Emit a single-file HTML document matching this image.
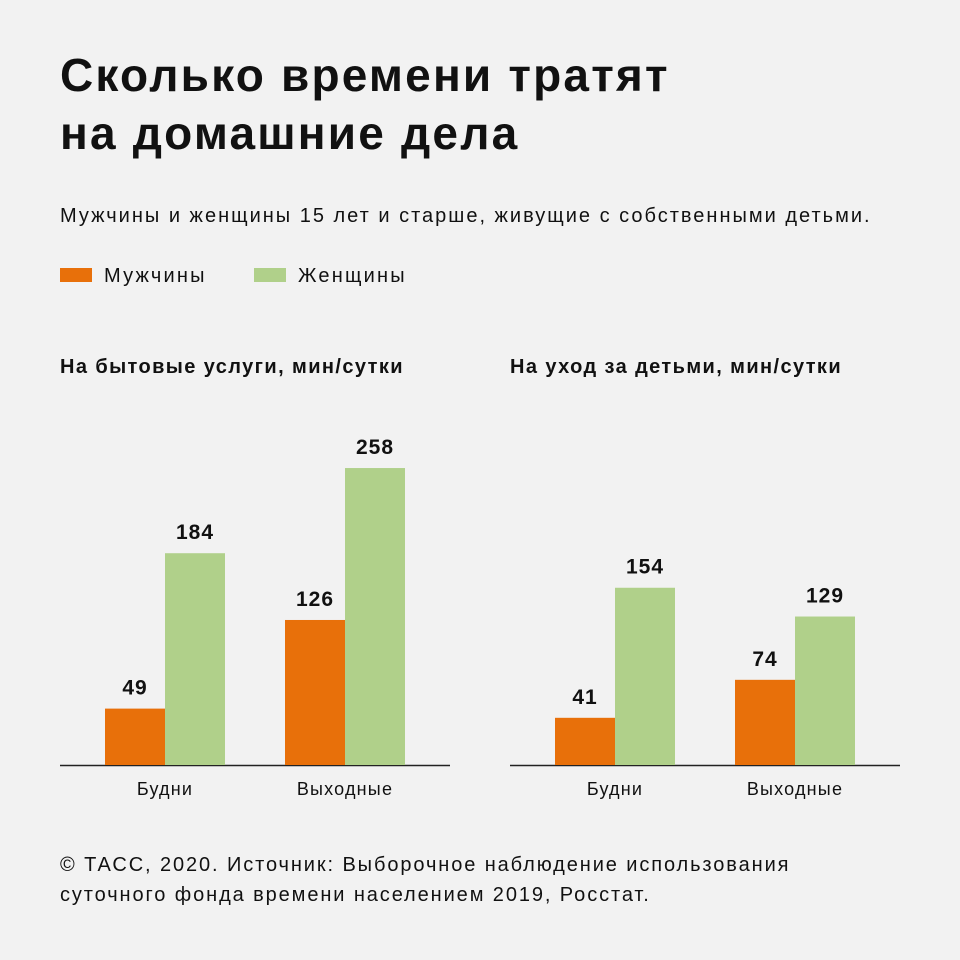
<!DOCTYPE html>
<html><head><meta charset="utf-8"><style>
body{margin:0;width:960px;height:960px;background:#f2f2f2;font-family:"Liberation Sans","DejaVu Sans",sans-serif;color:#111;position:relative;overflow:hidden}
.t{position:absolute;white-space:nowrap}
</style></head><body>
<div class="t" style="left:60px;top:46px;font-size:46px;font-weight:bold;line-height:58px;letter-spacing:2.2px">Сколько времени тратят<br>на домашние дела</div>
<div class="t" style="left:60px;top:205px;font-size:20px;letter-spacing:2px">Мужчины и женщины 15 лет и старше, живущие с собственными детьми.</div>
<div class="t" style="left:60px;top:265px;font-size:20px;letter-spacing:2.2px"><span style="display:inline-block;width:32px;height:14px;background:#e8700a;margin-right:12px"></span>Мужчины</div>
<div class="t" style="left:254px;top:265px;font-size:20px;letter-spacing:2.2px"><span style="display:inline-block;width:32px;height:14px;background:#b0d08a;margin-right:12px"></span>Женщины</div>
<div class="t" style="left:60px;top:356px;font-size:20px;font-weight:bold;letter-spacing:1.4px">На бытовые услуги, мин/сутки</div>
<div class="t" style="left:510px;top:356px;font-size:20px;font-weight:bold;letter-spacing:1.4px">На уход за детьми, мин/сутки</div>
<svg id="c" width="960" height="960" style="position:absolute;left:0;top:0"></svg>
<div class="t" style="left:60px;top:850px;font-size:20px;line-height:30px;letter-spacing:1.9px">© ТАСС, 2020. Источник: Выборочное наблюдение использования<br>суточного фонда времени населением 2019, Росстат.</div>
<script>
const categories=["Будни","Выходные"];
const householdMen=[49,126];
const householdWomen=[184,258];
const childcareMen=[41,74];
const childcareWomen=[154,129];
const svg=document.getElementById('c');
const NS='http://www.w3.org/2000/svg';
const base=765,scale=1.151;
const y=v=>base-v*scale;
function el(tag,attrs){const e=document.createElementNS(NS,tag);for(const k in attrs)e.setAttribute(k,attrs[k]);svg.appendChild(e);return e;}
function chart(x0,men,women,name){
  const ax=el('line',{x1:x0,x2:x0+390,y1:base+0.5,y2:base+0.5,stroke:'#222','stroke-width':1.5});
  
  
  categories.forEach((c,i)=>{
    const gx=x0+45+i*180;
    [[men[i],'#e8700a','men'],[women[i],'#b0d08a','women']].forEach(([v,col,s],j)=>{
      const r=el('rect',{x:gx+j*60,y:y(v),width:60,height:base-y(v),fill:col});
      
      
      const t=el('text',{x:gx+j*60+30,y:y(v)-14,'text-anchor':'middle','font-size':21,'font-weight':'bold',fill:'#111','letter-spacing':1});
      t.textContent=v;
      
      
    });
    const l=el('text',{x:gx+60,y:795,'text-anchor':'middle','font-size':18,fill:'#111','letter-spacing':1.2});
    l.textContent=c;
    
    
  });
}
chart(60,householdMen,householdWomen,'household');
chart(510,childcareMen,childcareWomen,'childcare');
</script>
</body></html>
